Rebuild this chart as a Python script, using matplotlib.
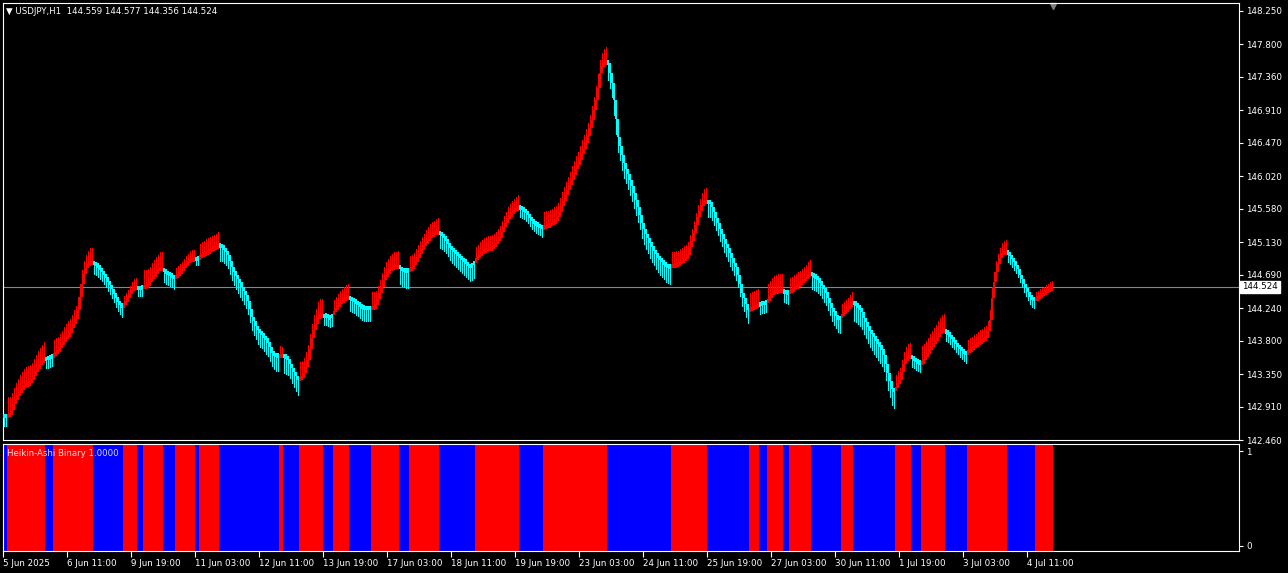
import numpy as np
import matplotlib.pyplot as plt
from matplotlib.transforms import blended_transform_factory

# USDJPY H1, Heikin-Ashi close per bar (5 Jun 03:00 -> 4 Jul 23:00)
ha_close = [
    142.78, 142.78, 142.79, 142.80, 142.87, 142.94, 143.01, 143.06, 143.11, 143.15,
    143.19, 143.20, 143.22, 143.23, 143.28, 143.33, 143.38, 143.43, 143.47, 143.52,
    143.55, 143.56, 143.57, 143.58, 143.59, 143.61, 143.63, 143.66, 143.70, 143.75,
    143.79, 143.83, 143.87, 143.90, 143.97, 144.03, 144.09, 144.21, 144.39, 144.57,
    144.70, 144.78, 144.83, 144.84, 144.85, 144.84, 144.83, 144.80, 144.77, 144.73,
    144.69, 144.65, 144.60, 144.55, 144.49, 144.44, 144.38, 144.33, 144.29, 144.26,
    144.29, 144.33, 144.38, 144.43, 144.48, 144.51, 144.51, 144.51, 144.51, 144.52,
    144.52, 144.52, 144.55, 144.59, 144.64, 144.68, 144.71, 144.75, 144.78, 144.76,
    144.74, 144.72, 144.71, 144.69, 144.67, 144.65, 144.66, 144.69, 144.72, 144.75,
    144.79, 144.82, 144.86, 144.89, 144.89, 144.90, 144.90, 144.91, 144.93, 144.95,
    144.97, 144.98, 145.00, 145.01, 145.03, 145.05, 145.06, 145.08, 145.09, 145.07,
    145.04, 145.01, 144.96, 144.88, 144.80, 144.73, 144.68, 144.63, 144.58, 144.53,
    144.47, 144.42, 144.34, 144.23, 144.12, 144.06, 144.00, 143.94, 143.92, 143.89,
    143.85, 143.82, 143.78, 143.71, 143.64, 143.61, 143.60, 143.60, 143.59, 143.59,
    143.59, 143.58, 143.55, 143.49, 143.43, 143.38, 143.32, 143.27, 143.29, 143.30,
    143.36, 143.45, 143.54, 143.69, 143.83, 143.95, 144.03, 144.12, 144.13, 144.13,
    144.14, 144.14, 144.12, 144.11, 144.15, 144.19, 144.23, 144.27, 144.31, 144.33,
    144.35, 144.38, 144.38, 144.37, 144.36, 144.34, 144.32, 144.30, 144.27, 144.25,
    144.24, 144.24, 144.24, 144.24, 144.24, 144.24, 144.28, 144.36, 144.44, 144.53,
    144.62, 144.68, 144.71, 144.75, 144.78, 144.79, 144.79, 144.80, 144.78, 144.76,
    144.75, 144.74, 144.75, 144.76, 144.77, 144.82, 144.87, 144.92, 144.98, 145.03,
    145.08, 145.12, 145.16, 145.20, 145.22, 145.24, 145.26, 145.26, 145.25, 145.23,
    145.20, 145.16, 145.11, 145.06, 145.04, 145.01, 144.98, 144.96, 144.93, 144.90,
    144.88, 144.85, 144.82, 144.80, 144.83, 144.86, 144.90, 144.93, 144.96, 144.99,
    145.01, 145.02, 145.03, 145.04, 145.05, 145.07, 145.11, 145.15, 145.19, 145.26,
    145.33, 145.39, 145.45, 145.48, 145.52, 145.55, 145.57, 145.59, 145.60, 145.58,
    145.56, 145.54, 145.50, 145.46, 145.42, 145.39, 145.37, 145.36, 145.34, 145.32,
    145.33, 145.34, 145.35, 145.36, 145.38, 145.40, 145.42, 145.47, 145.54, 145.62,
    145.69, 145.76, 145.83, 145.90, 145.97, 146.04, 146.11, 146.17, 146.24, 146.32,
    146.39, 146.47, 146.56, 146.67, 146.78, 146.91, 147.05, 147.21, 147.41, 147.50,
    147.55, 147.55, 147.55, 147.41, 147.28, 147.04, 146.79, 146.55, 146.43, 146.30,
    146.20, 146.12, 146.05, 145.97, 145.88, 145.79, 145.70, 145.60, 145.50, 145.39,
    145.30, 145.24, 145.18, 145.12, 145.07, 145.02, 144.97, 144.93, 144.90, 144.87,
    144.84, 144.81, 144.80, 144.80, 144.81, 144.81, 144.82, 144.83, 144.85, 144.87,
    144.89, 144.91, 144.96, 145.06, 145.15, 145.25, 145.36, 145.47, 145.55, 145.63,
    145.67, 145.67, 145.67, 145.67, 145.60, 145.53, 145.46, 145.39, 145.31, 145.24,
    145.17, 145.11, 145.05, 144.98, 144.92, 144.85, 144.79, 144.69, 144.57, 144.44,
    144.37, 144.29, 144.21, 144.22, 144.23, 144.25, 144.26, 144.28, 144.30, 144.30,
    144.31, 144.32, 144.35, 144.39, 144.43, 144.46, 144.46, 144.47, 144.47, 144.47,
    144.46, 144.45, 144.45, 144.46, 144.48, 144.50, 144.52, 144.54, 144.57, 144.59,
    144.62, 144.65, 144.68, 144.71, 144.69, 144.67, 144.66, 144.63, 144.59, 144.55,
    144.50, 144.45, 144.38, 144.31, 144.24, 144.19, 144.14, 144.09, 144.12, 144.15,
    144.17, 144.20, 144.24, 144.27, 144.31, 144.31, 144.29, 144.26, 144.24, 144.18,
    144.11, 144.05, 143.99, 143.94, 143.90, 143.85, 143.81, 143.77, 143.73, 143.69,
    143.61, 143.49, 143.36, 143.26, 143.15, 143.12, 143.17, 143.22, 143.27, 143.38,
    143.49, 143.55, 143.57, 143.59, 143.57, 143.55, 143.53, 143.51, 143.50, 143.50,
    143.54, 143.59, 143.63, 143.68, 143.72, 143.76, 143.81, 143.85, 143.90, 143.94,
    143.93, 143.92, 143.90, 143.87, 143.83, 143.80, 143.76, 143.73, 143.70, 143.67,
    143.64, 143.63, 143.65, 143.67, 143.69, 143.71, 143.74, 143.76, 143.78, 143.80,
    143.82, 143.84, 143.93, 144.08, 144.38, 144.59, 144.73, 144.83, 144.91, 144.98,
    144.98, 144.99, 144.99, 144.95, 144.91, 144.86, 144.82, 144.76, 144.69, 144.63,
    144.56, 144.51, 144.45, 144.39, 144.37, 144.36, 144.36, 144.38, 144.40, 144.42,
    144.44, 144.46, 144.48, 144.50, 144.51,
]

# Heikin-Ashi Binary: runs of bull (1) / bear (0) bars
run_dir = [0, 1, 0, 1, 0, 1, 0, 1, 0, 1, 0, 1, 0, 1, 0, 1, 0, 1, 0, 1, 0, 1,
           0, 1, 0, 1, 0, 1, 0, 1, 0, 1, 0, 1, 0, 1, 0, 1, 0, 1, 0, 1, 0, 1]
run_len = [2, 19, 4, 20, 15, 7, 3, 10, 6, 10, 2, 10, 30, 2, 8, 12, 5, 8, 11, 14, 5, 15,
           18, 22, 12, 32, 32, 18, 21, 5, 4, 8, 3, 11, 15, 6, 21, 8, 5, 12, 11, 20, 14, 9]
# typical wick length of each run (price units)
run_wick = [0.10, 0.22, 0.10, 0.18, 0.12, 0.10, 0.08, 0.20, 0.13, 0.10, 0.05, 0.16,
            0.18, 0.10, 0.20, 0.20, 0.10, 0.15, 0.15, 0.18, 0.20, 0.16, 0.17, 0.15,
            0.10, 0.18, 0.20, 0.16, 0.17, 0.20, 0.10, 0.20, 0.12, 0.16, 0.17, 0.13,
            0.22, 0.16, 0.10, 0.20, 0.10, 0.14, 0.10, 0.07]

price_ticks = [148.250, 147.800, 147.360, 146.910, 146.470, 146.020, 145.580,
               145.130, 144.690, 144.240, 143.800, 143.350, 142.910, 142.460]
date_labels = ["5 Jun 2025", "6 Jun 11:00", "9 Jun 19:00", "11 Jun 03:00",
               "12 Jun 11:00", "13 Jun 19:00", "17 Jun 03:00", "18 Jun 11:00",
               "19 Jun 19:00", "23 Jun 03:00", "24 Jun 11:00", "25 Jun 19:00",
               "27 Jun 03:00", "30 Jun 11:00", "1 Jul 19:00", "3 Jul 03:00",
               "4 Jul 11:00"]
bars_per_label = 32
last_price = 144.524
header = "\u25bc USDJPY,H1  144.559 144.577 144.356 144.524"

c = np.array(ha_close)
n = len(c)
# body runs from the previous bar's level to this bar's level
o = np.concatenate([[c[0]], c[:-1]])

bull = np.repeat(run_dir, run_len).astype(bool)
wick = np.repeat(run_wick, run_len)
x = np.arange(n)

mid = (o + c) / 2
h = np.maximum(np.abs(c - o), 0.06)
bot = mid - h / 2
top = bot + h
body_col = np.where(bull, '#ff0000', '#00ffff')
w_lo = np.where(bull, mid, bot - wick)
w_hi = np.where(bull, top + wick, mid)

W, H = 1288, 573
fig = plt.figure(figsize=(W / 100, H / 100), dpi=100, facecolor='black')
ax = fig.add_axes([3 / W, 1 - 440 / H, 1236 / W, 437 / H], facecolor='black')
ax2 = fig.add_axes([3 / W, 1 - 551 / H, 1236 / W, 107 / H], facecolor='black')

# candles
ax.vlines(x, w_lo, w_hi, colors=body_col, linewidths=0.72, antialiaseds=False, zorder=2)
ax.bar(x, h, bottom=bot, width=1.1, color=body_col, linewidth=0, antialiased=False, zorder=3)
ax.axhline(last_price, color='#778899', lw=0.8, zorder=1)

ax.set_xlim(-0.5, 617.5)
ax.set_ylim(142.46, 148.354)
ax.yaxis.tick_right()
ax.set_yticks(price_ticks)
ax.set_yticklabels(['%.3f' % p for p in price_ticks])
ax.tick_params(axis='y', colors='white', labelsize=6.3, length=3, width=0.8, pad=2)
ax.tick_params(axis='x', bottom=False, labelbottom=False)

tr = blended_transform_factory(ax.transAxes, ax.transData)
ax.text(1.0025, last_price, '%.3f' % last_price, transform=tr, ha='left', va='center',
        fontsize=6.3, color='black',
        bbox=dict(facecolor='white', edgecolor='white', pad=1.2))
tr2 = blended_transform_factory(ax.transData, ax.transAxes)
ax.plot([n - 0.5], [0.992], marker='v', ms=5, color='#808080', transform=tr2, clip_on=False)

fig.text(6 / W, 1 - 12 / H, header, color='white', fontsize=6.2, va='center', ha='left')

# binary panel
start = 0
for d, ln in zip(run_dir, run_len):
    ax2.axvspan(start - 0.5, start + ln - 0.5, color='#ff0000' if d else '#0000ff', lw=0)
    start += ln

ax2.set_xlim(-0.5, 617.5)
ax2.set_ylim(-0.053, 1.074)
ax2.yaxis.tick_right()
ax2.set_yticks([0, 1])
ax2.set_yticklabels(['0', '1'])
ax2.tick_params(axis='y', colors='white', labelsize=6.3, length=3, width=0.8, pad=2)
ax2.set_xticks([k * bars_per_label - 0.5 for k in range(len(date_labels))])
ax2.set_xticklabels(date_labels)
for lab in ax2.get_xticklabels():
    lab.set_ha('left')
ax2.tick_params(axis='x', colors='white', labelsize=6.3, length=4, width=0.8, pad=2)
ax2.text(7 / W, 1 - 453 / H, 'Heikin-Ashi Binary 1.0000', transform=fig.transFigure,
         color='white', alpha=0.85, fontsize=6.2, va='center', ha='left')

for a in (ax, ax2):
    for s in a.spines.values():
        s.set_color('white')
        s.set_linewidth(0.8)

plt.savefig('out.png', dpi=100, facecolor='black')
